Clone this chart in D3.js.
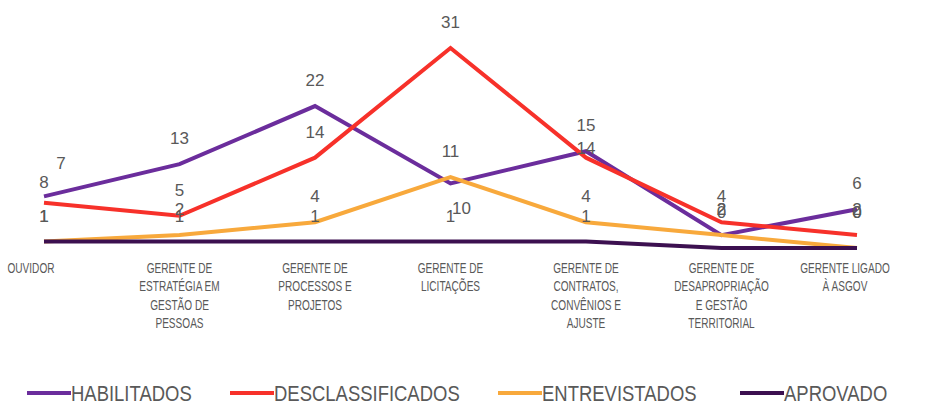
<!DOCTYPE html>
<html>
<head>
<meta charset="utf-8">
<script src="https://cdn.jsdelivr.net/npm/d3@7"></script>
<style>
  html, body { margin: 0; padding: 0; background: #ffffff; }
  svg { display: block; }
</style>
</head>
<body>
<svg id="chart" width="925" height="403"></svg>
<script>
// ---- data ----
const categories = [
  "OUVIDOR",
  "GERENTE DE ESTRATÉGIA EM GESTÃO DE PESSOAS",
  "GERENTE DE PROCESSOS E PROJETOS",
  "GERENTE DE LICITAÇÕES",
  "GERENTE DE CONTRATOS, CONVÊNIOS E AJUSTE",
  "GERENTE DE DESAPROPRIAÇÃO E GESTÃO TERRITORIAL",
  "GERENTE LIGADO À ASGOV"
];
const tickLabels = [
  ["OUVIDOR"],
  ["GERENTE DE", "ESTRATÉGIA EM", "GESTÃO DE", "PESSOAS"],
  ["GERENTE DE", "PROCESSOS E", "PROJETOS"],
  ["GERENTE DE", "LICITAÇÕES"],
  ["GERENTE DE", "CONTRATOS,", "CONVÊNIOS E", "AJUSTE"],
  ["GERENTE DE", "DESAPROPRIAÇÃO", "E GESTÃO", "TERRITORIAL"],
  ["GERENTE LIGADO", "À ASGOV"]
];
const seriesNames = ["HABILITADOS", "DESCLASSIFICADOS", "ENTREVISTADOS", "APROVADO"];
const habilitados      = [8, 13, 22, 10, 15, 2, 6];
const desclassificados = [7, 5, 14, 31, 14, 4, 2];
const entrevistados    = [1, 2, 4, 11, 4, 2, 0];
const aprovado         = [1, 1, 1, 1, 1, 0, 0];

// ---- styles ----
const colors = ["#6b2d9c", "#f7312a", "#f8a93c", "#3c1050"];
const textColor = "#595959";
const regular = "'Liberation Sans', Arial, sans-serif";

// label nudges (dx, dy) for a few overlapping data labels
const labelNudges = {
  "HABILITADOS|0": [0, 11],
  "DESCLASSIFICADOS|0": [17, -14],
  "HABILITADOS|3": [11, 50],
  "DESCLASSIFICADOS|4": [0, 16]
};

const seriesValues = [habilitados, desclassificados, entrevistados, aprovado];
const series = seriesNames.map((name, i) => ({ name, values: seriesValues[i], color: colors[i] }));

const svg = d3.select("#chart");

const x = d3.scalePoint().domain(categories).range([44, 857]);
const y = d3.scaleLinear().domain([0, 31]).range([248, 48]);

const line = d3.line()
  .x((d, i) => x(categories[i]))
  .y(d => y(d));

// lines
svg.append("g").selectAll("path")
  .data(series)
  .join("path")
  .attr("d", d => line(d.values))
  .attr("fill", "none")
  .attr("stroke", d => d.color)
  .attr("stroke-width", 4)
  .attr("stroke-linejoin", "miter")
  .attr("stroke-linecap", "butt");

// data labels
const labelData = [];
series.forEach(s => {
  s.values.forEach((v, i) => {
    const n = labelNudges[s.name + "|" + i] || [0, 0];
    const off = v === 0 ? -36 : -26;
    labelData.push({ v, cx: x(categories[i]) + n[0], cy: y(v) + off + n[1] });
  });
});
svg.append("g").selectAll("text")
  .data(labelData)
  .join("text")
  .attr("x", d => d.cx)
  .attr("y", d => d.cy)
  .attr("dy", "0.36em")
  .attr("text-anchor", "middle")
  .attr("font-family", regular)
  .attr("font-size", 17)
  .attr("fill", textColor)
  .text(d => d.v);

// category axis labels (condensed look via horizontal scaling)
const axisG = svg.append("g");
categories.forEach((c, i) => {
  let cx = x(c);
  if (i === 0) cx -= 13;
  if (i === categories.length - 1) cx -= 12;
  const t = axisG.append("g").attr("transform", `translate(${cx},0)`)
    .append("text")
    .attr("transform", "scale(0.72,1)")
    .attr("text-anchor", "middle")
    .attr("font-family", regular)
    .attr("font-size", 14)
    .attr("fill", textColor);
  tickLabels[i].forEach((ln, j) => {
    t.append("tspan").attr("x", 0).attr("y", 273 + j * 18.3).text(ln);
  });
});

// legend
const legendX = [27, 230, 498, 740];
const lg = svg.append("g");
series.forEach((s, i) => {
  const g = lg.append("g").attr("transform", `translate(${legendX[i]},393)`);
  g.append("line").attr("x1", 0).attr("x2", 44).attr("y1", 0).attr("y2", 0)
    .attr("stroke", s.color).attr("stroke-width", 4);
  g.append("g").attr("transform", "translate(44,0)")
    .append("text").attr("transform", "scale(0.84,1)")
    .attr("x", 0).attr("y", 0).attr("dy", "0.36em")
    .attr("font-family", regular).attr("font-size", 22).attr("fill", textColor)
    .text(s.name);
});
</script>
</body>
</html>
